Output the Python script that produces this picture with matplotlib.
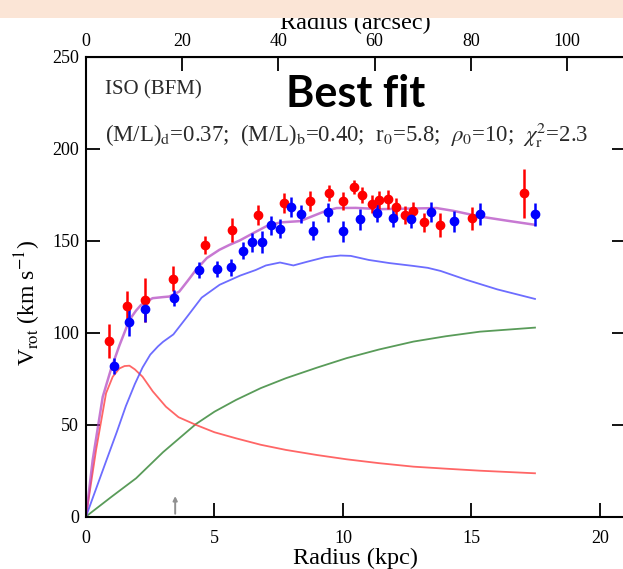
import matplotlib
matplotlib.use("Agg")
import matplotlib.pyplot as plt
from matplotlib.patches import Rectangle

plt.rcParams['font.family'] = ['Liberation Serif', 'DejaVu Serif']
plt.rcParams['mathtext.fontset'] = 'stix'

# ---- data (kpc, km/s) ----
red_r = [0.88, 1.61, 2.28, 3.40, 4.62, 5.67, 6.68, 7.69, 8.70, 9.44, 9.99, 10.42, 10.73,
         11.12, 11.41, 11.75, 12.05, 12.40, 12.71, 13.15, 13.78, 15.01, 17.06]
red_v = [95.6, 114.5, 117.8, 129.2, 147.7, 155.9, 163.7, 170.5, 171.5, 175.8, 171.6, 179.2, 174.9,
         170.0, 172.2, 172.4, 168.2, 163.8, 166.2, 159.9, 158.6, 162.2, 175.8]
red_e = [9.2, 8.0, 11.8, 6.8, 5.0, 6.5, 5.4, 5.5, 5.5, 4.5, 5.0, 4.0, 4.5,
         5.0, 5.0, 5.0, 5.0, 5.0, 5.0, 5.3, 6.5, 6.2, 13.3]

blue_r = [1.10, 1.69, 2.28, 3.41, 4.41, 5.10, 5.66, 6.10, 6.46, 6.85, 7.19, 7.53, 7.97, 8.35,
          8.84, 9.43, 10.00, 10.66, 11.31, 11.93, 12.65, 13.43, 14.33, 15.33, 17.47]
blue_v = [81.9, 106.0, 113.0, 118.9, 134.1, 134.5, 135.4, 144.5, 149.0, 149.4, 158.3, 156.5, 168.5, 164.5,
          155.4, 165.3, 155.0, 161.5, 165.0, 162.2, 161.9, 165.4, 160.4, 164.4, 164.4]
blue_e = [4.4, 7.7, 7.0, 4.4, 4.5, 4.5, 4.5, 4.5, 5.0, 6.0, 5.0, 5.0, 5.4, 5.0,
          5.0, 5.0, 5.5, 5.5, 5.0, 5.0, 5.0, 5.5, 5.5, 6.0, 6.3]

total_r = [0, 0.26, 0.65, 0.97, 1.30, 1.69, 1.95, 2.14, 2.59, 3.0, 3.24, 3.63, 3.95, 4.28, 4.7, 5.19,
           5.6, 5.97, 6.5, 7.0, 7.55, 8.33, 8.85, 9.3, 9.75, 10.5, 11.44, 12.5, 13.64, 14.29, 15.33,
           16.4, 17.47]
total_v = [0, 30.7, 65.0, 80.0, 93.0, 106.9, 112.0, 115.0, 118.7, 119.3, 119.6, 122.3, 128.0, 134.1,
           140.5, 145.0, 147.8, 150.0, 154.0, 157.7, 159.9, 160.6, 163.5, 166.0, 167.7, 167.8, 167.1,
           167.4, 167.7, 166.2, 163.1, 160.8, 158.6]

disk_r = [0, 0.78, 1.2, 1.55, 1.9, 2.2, 2.5, 2.8, 3.0, 3.4, 3.9, 4.5, 5.2, 6.0, 6.6, 7.0, 7.55, 8.07,
          8.6, 9.3, 9.9, 10.3, 11.0, 11.8, 12.7, 13.3, 13.8, 14.8, 16.0, 17.47]
disk_v = [0, 30.0, 46.0, 60.0, 72.0, 81.0, 88.0, 92.5, 95.0, 99.0, 108.0, 119.0, 126.0, 131.0, 134.0,
          136.5, 138.1, 136.5, 138.5, 141.0, 141.9, 141.7, 139.5, 137.8, 136.3, 135.2, 133.5, 128.7,
          123.5, 118.3]

bulge_r = [0, 0.39, 0.78, 1.04, 1.30, 1.5, 1.69, 1.9, 2.2, 2.6, 3.11, 3.6, 4.28, 5.0, 5.84, 6.8,
           7.78, 9.0, 10.14, 11.4, 12.74, 14.0, 15.33, 17.47]
bulge_v = [0, 36.0, 67.0, 76.0, 80.5, 81.8, 82.0, 80.0, 76.0, 68.0, 59.7, 54.0, 49.8, 45.8, 42.5,
           39.0, 36.2, 33.4, 31.1, 29.0, 27.1, 26.0, 24.9, 23.5]

halo_r = [0, 1.0, 1.95, 3.0, 4.28, 5.0, 5.84, 6.8, 7.78, 9.0, 10.14, 11.4, 12.74, 14.0, 15.33, 17.47]
halo_v = [0, 10.8, 20.8, 35.0, 50.3, 57.0, 63.4, 69.8, 75.2, 81.0, 86.1, 90.8, 95.1, 98.0, 100.5, 102.7]

arrow_r = 3.47
KPC_PER_ARCSEC = 0.1872

# ---- figure ----
W, H = 623, 569
fig = plt.figure(figsize=(W / 100, H / 100), dpi=100)
x0, x1 = 86, 86 + 21 * 25.7
y0, y1 = 516.5, 56.7
ax = fig.add_axes([x0 / W, 1 - y0 / H, (x1 - x0) / W, (y0 - y1) / H])

ax.plot(halo_r, halo_v, color='#3c8a3c', lw=1.3, alpha=0.85)
ax.plot(bulge_r, bulge_v, color='#ff4040', lw=1.3, alpha=0.8)
ax.plot(disk_r, disk_v, color='#4848ff', lw=1.3, alpha=0.8)
ax.plot(total_r, total_v, color='#b040c0', lw=1.8, alpha=0.7)

ax.errorbar(red_r, red_v, yerr=red_e, fmt='o', color='#ff0000', ms=6, elinewidth=1.8,
            capsize=0, mec='#ff0000')
ax.errorbar(blue_r, blue_v, yerr=blue_e, fmt='o', color='#0000ff', ms=6, elinewidth=1.8,
            capsize=0, mec='#0000ff')

ax.annotate('', xy=(arrow_r, 12.6), xytext=(arrow_r, 0),
            arrowprops=dict(arrowstyle='-|>', color='#909090', lw=1.4, mutation_scale=6))

ax.set_xlim(0, 21)
ax.set_ylim(0, 250)
ax.set_xticks([0, 5, 10, 15, 20])
ax.set_yticks([0, 50, 100, 150, 200, 250])
ax.tick_params(direction='in', length=10, width=1.3, labelsize=13, right=True, top=False, pad=5)
ax.tick_params(axis='x', pad=10)
for s in ax.spines.values():
    s.set_linewidth(1.5)

sec = ax.secondary_xaxis('top', functions=(lambda k: k / KPC_PER_ARCSEC, lambda a: a * KPC_PER_ARCSEC))
sec.set_xticks([0, 20, 40, 60, 80, 100])
sec.tick_params(direction='in', length=10, width=1.3, labelsize=13, pad=5)
sec.set_xlabel('Radius (arcsec)', fontsize=17.5, labelpad=2.5)

ax.set_xlabel('Radius (kpc)', fontsize=17.5, labelpad=0.5)
ax.set_ylabel(r'V$_{\rm rot}$ (km s$^{-1}$)', fontsize=17)
ax.yaxis.set_label_coords(-0.08, 0.465)

ax.text(0.74, 232, 'ISO (BFM)', fontsize=15, ha='left', va='center', color='#2a2a2a')
ax.text(0.74, 207, r'(M/L)$_{\rm d}$=0.37;  (M/L)$_{\rm b}$=0.40;  r$_0$=5.8;  $\rho_0$=10;  $\chi^2_{\rm r}$=2.3',
        fontsize=16.4, ha='left', va='center', color='#2a2a2a')
ax.text(10.5, 229.5, 'Best fit', fontsize=31, fontweight='bold', family=['Lato', 'DejaVu Sans'],
        ha='center', va='center', color='black')

fig.add_artist(Rectangle((0, 1 - 18 / H), 1, 18 / H, transform=fig.transFigure,
                         facecolor='#fbe5d6', edgecolor='none', zorder=20))

fig.savefig('out.png', dpi=100)
